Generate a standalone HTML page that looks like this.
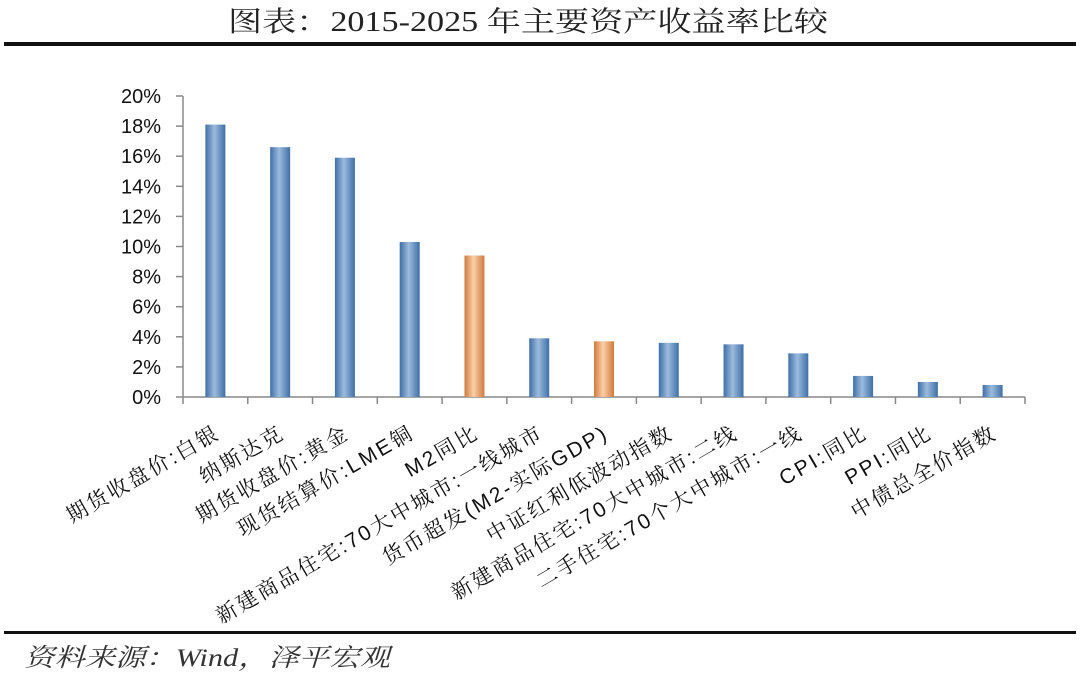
<!DOCTYPE html>
<html><head><meta charset="utf-8"><style>
body{margin:0;background:#fff;width:1080px;height:676px;overflow:hidden}
svg{display:block}
</style></head><body>
<svg width="1080" height="676" xmlns="http://www.w3.org/2000/svg">
<defs>
<linearGradient id="gb" x1="0" x2="1"><stop offset="0" stop-color="#3d6fa8"/><stop offset="0.45" stop-color="#9dbbdc"/><stop offset="1" stop-color="#3d6fa8"/></linearGradient>
<linearGradient id="go" x1="0" x2="1"><stop offset="0" stop-color="#d07a3c"/><stop offset="0.45" stop-color="#fbcfa8"/><stop offset="1" stop-color="#d07a3c"/></linearGradient>
</defs>
<text x="228" y="31" textLength="600" lengthAdjust="spacingAndGlyphs" font-family="'Liberation Serif','Noto Serif CJK SC',serif" font-size="28" fill="#222">图表：2015-2025 年主要资产收益率比较</text>
<rect x="4" y="42" width="1072" height="4" fill="#111"/>
<g id="plot"></g>
<rect x="4" y="631" width="1072" height="3" fill="#111"/>
<text x="24" y="666" textLength="366" lengthAdjust="spacingAndGlyphs" font-family="'Liberation Serif','Noto Serif CJK SC',serif" font-style="italic" font-size="25" fill="#333">资料来源：Wind，泽平宏观</text>
</svg>
<script>
const categories=["期货收盘价:白银","纳斯达克","期货收盘价:黄金","现货结算价:LME铜","M2同比","新建商品住宅:70大中城市:一线城市","货币超发(M2-实际GDP)","中证红利低波动指数","新建商品住宅:70大中城市:二线","二手住宅:70个大中城市:一线","CPI:同比","PPI:同比","中债总全价指数"];
const values=[18.1,16.6,15.9,10.3,9.4,3.9,3.7,3.6,3.5,2.9,1.4,1.0,0.8];
const highlight=[0,0,0,0,1,0,1,0,0,0,0,0,0];
const yTicks=[0,2,4,6,8,10,12,14,16,18,20];
const NS="http://www.w3.org/2000/svg";
const g=document.getElementById('plot');
const x0=183,x1=1025,y0=397,yTop=96,step=(x1-x0)/categories.length;
const y=v=>y0-(v/20)*(y0-yTop);
const xc=i=>x0+step*(i+0.5);
function mk(t,a){const e=document.createElementNS(NS,t);for(const k in a)e.setAttribute(k,a[k]);g.appendChild(e);return e;}
let ax=mk('line',{x1:x0,y1:yTop,x2:x0,y2:y0,stroke:'#888','stroke-width':1.5});


yTicks.forEach(v=>{
 const t=mk('line',{x1:x0-7,x2:x0,y1:y(v),y2:y(v),stroke:'#888','stroke-width':1.5});
 
 
 const l=mk('text',{x:x0-22,y:y(v)+7,'text-anchor':'end','font-family':"'Liberation Sans','Noto Sans CJK SC',sans-serif",'font-size':20,fill:'#111'});
 l.textContent=v+'%';
 
 
});
let bx=mk('line',{x1:x0,y1:y0,x2:x1,y2:y0,stroke:'#888','stroke-width':1.5});


for(let i=0;i<=categories.length;i++){
 const t=mk('line',{x1:x0+step*i,x2:x0+step*i,y1:y0,y2:y0+7,stroke:'#888','stroke-width':1.5});
 
 
}
categories.forEach((c,i)=>{
 const r=mk('rect',{x:xc(i)-10,y:y(values[i]),width:20,height:y0-y(values[i]),fill:highlight[i]?'url(#go)':'url(#gb)'});
 
 
 const tx=xc(i)+6,ty=437;
 const l=mk('text',{x:tx,y:ty,'text-anchor':'end','letter-spacing':2.5,'font-family':"'Liberation Sans','Noto Serif CJK SC',serif",'font-size':21,fill:'#111',transform:`rotate(-30 ${tx} ${ty})`});
 l.textContent=c;
 
 
});
</script>
</body></html>
